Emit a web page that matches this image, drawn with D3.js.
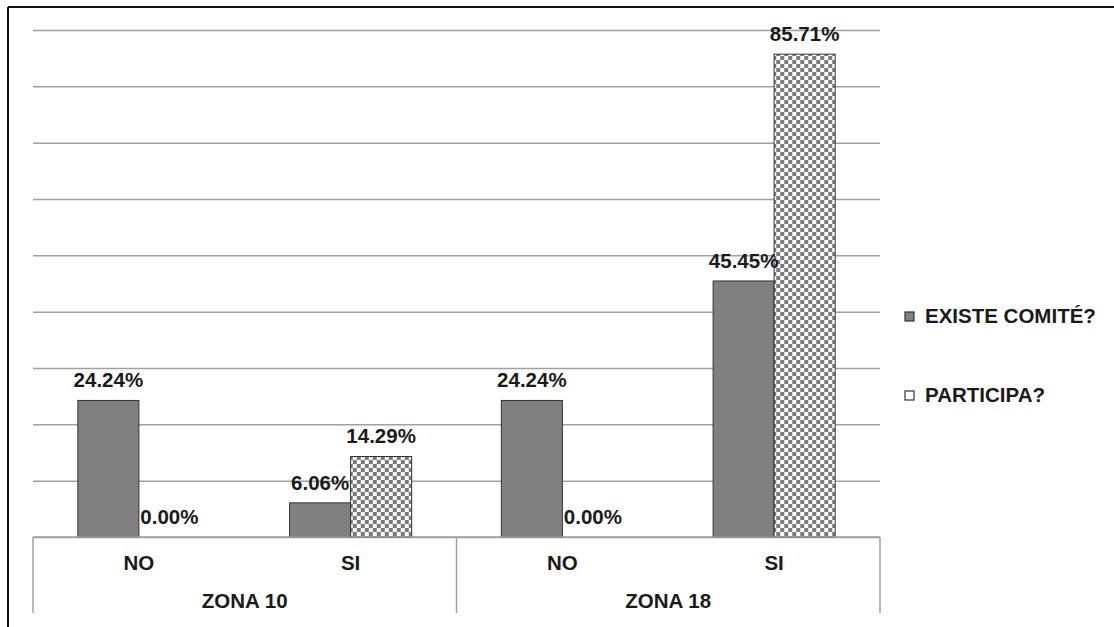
<!DOCTYPE html>
<html>
<head>
<meta charset="utf-8">
<script src="https://cdn.jsdelivr.net/npm/d3@7"></script>
<style>
  body { margin: 0; background: #fff; }
  text { font-family: "Liberation Sans", Arial, sans-serif; font-weight: bold; fill: #1a1a1a; }
</style>
</head>
<body>
<div id="chart"></div>
<script>
// DATA
let zones = ['ZONA 10', 'ZONA 18'];
let answers = ['NO', 'SI'];
let seriesNames = ['EXISTE COMITÉ?', 'PARTICIPA?'];
let existe = [24.24, 6.06, 24.24, 45.45];
let participa = [0.0, 14.29, 0.0, 85.71];
let yTicks = [0, 10, 20, 30, 40, 50, 60, 70, 80, 90];

// CONST
let width = 1114;
height = 627;
margin = { top: 30, bottom: 90, left: 33, right: 234 };
let fontSize = 20.5;

// build rows: one per zone/answer pair
let rows = [];
zones.forEach((z, zi) => {
  answers.forEach((a, ai) => {
    let i = zi * answers.length + ai;
    rows.push({ key: z + '|' + a, zone: z, answer: a, existe: existe[i], participa: participa[i] });
  });
});

let svg = d3
  .select('#chart')
  .append('svg')
  .attr('width', width)
  .attr('height', height);

// checker pattern for PARTICIPA?
let defs = svg.append('defs');
let pat = defs
  .append('pattern')
  .attr('id', 'checker')
  .attr('patternUnits', 'userSpaceOnUse')
  .attr('width', 8)
  .attr('height', 8);
pat.append('rect').attr('width', 8).attr('height', 8).attr('fill', '#fff');
pat.append('rect').attr('x', 0).attr('y', 0).attr('width', 4).attr('height', 4).attr('fill', '#7a7a7a');
pat.append('rect').attr('x', 4).attr('y', 4).attr('width', 4).attr('height', 4).attr('fill', '#7a7a7a');

// outer frame (top + left only visible)
svg.append('line').attr('x1', 8).attr('x2', width).attr('y1', 7).attr('y2', 7)
  .attr('stroke', '#111').attr('stroke-width', 2);
svg.append('line').attr('x1', 8).attr('x2', 8).attr('y1', 7).attr('y2', height)
  .attr('stroke', '#111').attr('stroke-width', 2);

// SCALES
let xScale = d3
  .scaleBand()
  .domain(rows.map(d => d.key))
  .range([margin.left, width - margin.right])
  .padding(0);

let xSub = d3
  .scaleBand()
  .domain(['existe', 'participa'])
  .range([0, xScale.bandwidth()])
  .paddingInner(0)
  .paddingOuter(0.735);

let yScale = d3
  .scaleLinear()
  .domain([0, 90])
  .range([height - margin.bottom, margin.top]);

// grid lines
let yGrid = d3.axisLeft(yScale)
  .tickValues(yTicks)
  .tickSize(-(width - margin.right - margin.left))
  .tickFormat('');

svg.append('g')
  .attr('class', 'grid-lines')
  .attr('transform', `translate(${margin.left},0)`)
  .call(yGrid)
  .call(g => g.select('.domain').remove())
  .call(g => g.selectAll('line').attr('stroke', '#a0a0a0').attr('stroke-width', 1.5));

// BARS
let groups = svg
  .selectAll('.grp')
  .data(rows)
  .join('g')
  .attr('class', 'grp')
  .attr('transform', d => `translate(${xScale(d.key)},0)`);

groups
  .append('rect')
  .attr('x', xSub('existe'))
  .attr('y', d => yScale(d.existe))
  .attr('width', xSub.bandwidth())
  .attr('height', d => yScale(0) - yScale(d.existe))
  .attr('fill', '#808080')
  .attr('stroke', '#333')
  .attr('stroke-width', 1);

groups
  .filter(d => d.participa > 0)
  .append('rect')
  .attr('x', xSub('participa'))
  .attr('y', d => yScale(d.participa))
  .attr('width', xSub.bandwidth())
  .attr('height', d => yScale(0) - yScale(d.participa))
  .attr('fill', 'url(#checker)')
  .attr('stroke', '#333')
  .attr('stroke-width', 1);

// value labels
groups
  .append('text')
  .attr('x', xSub('existe') + xSub.bandwidth() / 2)
  .attr('y', d => yScale(d.existe) - 13)
  .attr('text-anchor', 'middle')
  .attr('font-size', fontSize)
  .text(d => d.existe.toFixed(2) + '%');

groups
  .append('text')
  .attr('x', xSub('participa') + xSub.bandwidth() / 2)
  .attr('y', d => yScale(d.participa) - 13)
  .attr('text-anchor', 'middle')
  .attr('font-size', fontSize)
  .text(d => d.participa.toFixed(2) + '%');

// AXIS: baseline and category boxes
let y0 = yScale(0);
svg.append('line')
  .attr('x1', margin.left).attr('x2', width - margin.right)
  .attr('y1', y0).attr('y2', y0)
  .attr('stroke', '#a0a0a0').attr('stroke-width', 1.5);

let zoneEdges = [margin.left];
zones.forEach(z => {
  let last = rows.filter(r => r.zone === z).slice(-1)[0];
  zoneEdges.push(xScale(last.key) + xScale.bandwidth());
});
svg.selectAll('.zone-sep')
  .data(zoneEdges)
  .join('line')
  .attr('class', 'zone-sep')
  .attr('x1', d => d).attr('x2', d => d)
  .attr('y1', y0).attr('y2', 613)
  .attr('stroke', '#a0a0a0').attr('stroke-width', 1.5);

svg.selectAll('.cat-label')
  .data(rows)
  .join('text')
  .attr('class', 'cat-label')
  .attr('x', d => xScale(d.key) + xScale.bandwidth() / 2)
  .attr('y', 570)
  .attr('text-anchor', 'middle')
  .attr('font-size', fontSize)
  .text(d => d.answer);

svg.selectAll('.zone-label')
  .data(zones)
  .join('text')
  .attr('class', 'zone-label')
  .attr('x', (d, i) => (zoneEdges[i] + zoneEdges[i + 1]) / 2)
  .attr('y', 608)
  .attr('text-anchor', 'middle')
  .attr('font-size', fontSize)
  .text(d => d);

// LEGEND
let legend = svg.selectAll('.legend')
  .data(seriesNames)
  .join('g')
  .attr('class', 'legend')
  .attr('transform', (d, i) => `translate(905,${312 + i * 79})`);

legend.append('rect')
  .attr('width', 9).attr('height', 9)
  .attr('fill', (d, i) => (i === 0 ? '#808080' : '#fff'))
  .attr('stroke', '#333').attr('stroke-width', 1.2);

legend.append('text')
  .attr('x', 20)
  .attr('y', 11)
  .attr('font-size', fontSize)
  .text(d => d);
</script>
</body>
</html>
